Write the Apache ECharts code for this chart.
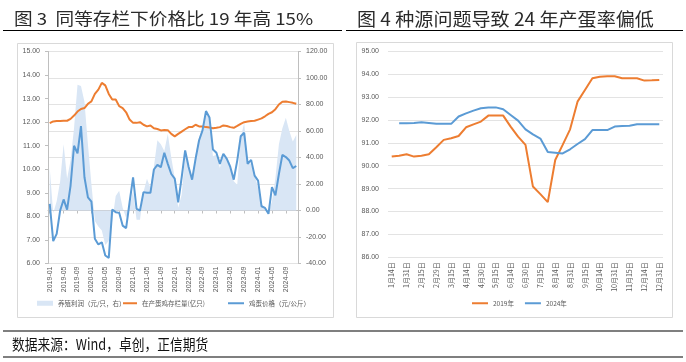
<!DOCTYPE html>
<html><head><meta charset="utf-8">
<script src="https://cdn.jsdelivr.net/npm/echarts@6/dist/echarts.min.js"></script>
<style>html,body{margin:0;padding:0;background:#fff}#c{width:686px;height:362px}</style>
</head><body><div id="c"></div>
<script>
// ---------- Left chart (图3) ----------
const months = [
 '2019-01','2019-02','2019-03','2019-04','2019-05','2019-06','2019-07','2019-08','2019-09','2019-10','2019-11','2019-12',
 '2020-01','2020-02','2020-03','2020-04','2020-05','2020-06','2020-07','2020-08','2020-09','2020-10','2020-11','2020-12',
 '2021-01','2021-02','2021-03','2021-04','2021-05','2021-06','2021-07','2021-08','2021-09','2021-10','2021-11','2021-12',
 '2022-01','2022-02','2022-03','2022-04','2022-05','2022-06','2022-07','2022-08','2022-09','2022-10','2022-11','2022-12',
 '2023-01','2023-02','2023-03','2023-04','2023-05','2023-06','2023-07','2023-08','2023-09','2023-10','2023-11','2023-12',
 '2024-01','2024-02','2024-03','2024-04','2024-05','2024-06','2024-07','2024-08','2024-09','2024-10','2024-11','2024-12'
];
// 养殖利润（元/只，右）
const profit = [
 32, -2, 7, 22, 50, 24, 38, 62, 95, 94,
 82, 50, 20, -8, -12, -15, -26, -23, -8, 11,
 15, 2, -5.6, 3, 15, -7, -7, 14, 24, 17,
 33, 53, 50, 45, 58, 40, 24.5, 2, 12, 42,
 35, 24.5, 42, 55, 62, 74, 70, 41, 42, 32,
 42, 40, 35, 22, 19.5, 55, 66, 37, 35, 27,
 17, 4.5, 2, -2, 7, 24.5, 50, 62, 70, 60,
 52, 57
];
// 在产蛋鸡存栏量(亿只)
const stock = [
 11.96, 12.03, 12.05, 12.05, 12.06, 12.06, 12.14, 12.28, 12.45, 12.56,
 12.6, 12.78, 12.88, 13.2, 13.38, 13.67, 13.56, 13.2, 12.96, 12.96,
 12.68, 12.6, 12.42, 12.11, 11.97, 11.97, 12.0, 11.89, 11.82, 11.86,
 11.74, 11.71, 11.65, 11.67, 11.66, 11.5, 11.4, 11.5, 11.6, 11.7,
 11.79, 11.79, 11.89, 11.82, 11.82, 11.79, 11.77, 11.74, 11.76, 11.79,
 11.86, 11.84, 11.79, 11.76, 11.84, 11.93, 12.0, 12.03, 12.05, 12.06,
 12.11, 12.16, 12.25, 12.35, 12.42, 12.55, 12.75, 12.87, 12.88, 12.85,
 12.82, 12.78
];
// 鸡蛋价格（元/公斤）
const eggPrice = [
 8.53, 6.95, 7.26, 8.25, 8.72, 8.29, 9.31, 11.0, 10.68, 11.83,
 9.66, 8.81, 8.63, 7.05, 6.81, 6.90, 6.34, 6.24, 8.29, 8.18,
 8.15, 7.61, 7.50, 8.6, 9.66, 8.32, 8.25, 9.03, 9.0, 9.0,
 9.99, 10.19, 10.09, 10.7, 10.23, 9.8, 9.6, 8.6, 9.66, 10.8,
 10.1, 9.56, 10.44, 11.22, 11.65, 12.47, 12.2, 10.84, 10.7, 10.23,
 10.66, 10.44, 10.1, 9.56, 10.37, 11.4, 11.55, 10.23, 10.4, 9.73,
 9.52, 8.43, 8.36, 8.11, 9.24, 8.89, 9.8, 10.61, 10.52, 10.37,
 10.05, 10.14
];

// ---------- Right chart (图4) ----------
const dates = [
 '1月14日','1月22日','1月31日','2月7日','2月15日','2月22日','2月29日','3月7日','3月15日','3月31日',
 '4月14日','4月22日','4月30日','5月7日','5月15日','5月31日','6月14日','6月22日','6月30日','7月7日',
 '7月15日','7月31日','8月14日','8月22日','8月31日','9月7日','9月15日','9月30日','10月14日','10月22日',
 '10月31日','11月7日','11月15日','11月30日','12月14日','12月22日','12月31日'
];
const rate2019 = [
 90.40, 90.44, 90.50, 90.40, 90.44, 90.50, 90.81, 91.13, 91.20, 91.30,
 91.68, 91.81, 91.93, 92.19, 92.19, 92.19, 91.71, 91.27, 90.91, 89.09,
 88.76, 88.41, 90.25, 90.91, 91.59, 92.80, 93.31, 93.82, 93.89, 93.91,
 93.91, 93.82, 93.82, 93.82, 93.72, 93.73, 93.75
];
const rate2024 = [
 null, 91.86, 91.86, 91.87, 91.90, 91.87, 91.83, 91.83, 91.83, 92.15,
 92.29, 92.41, 92.51, 92.54, 92.55, 92.47, 92.22, 91.97, 91.59, 91.37,
 91.19, 90.60, 90.57, 90.54, 90.72, 90.95, 91.16, 91.56, 91.56, 91.56,
 91.71, 91.74, 91.75, 91.81, 91.81, 91.81, 91.81
];

const titleLeft = '图 3  同等存栏下价格比 19 年高 15%';
const titleRight = '图 4 种源问题导致 24 年产蛋率偏低';
const footer = '数据来源：Wind，卓创，正信期货';

const FN = '"Liberation Sans", Arial, sans-serif';
const FC = '"Noto Sans CJK SC", sans-serif';
const LBL = '#595959';
const AX = '#bfbfbf';
const GRID = '#e3e3e3';
const ORANGE = '#ED7D31', BLUE = '#5B9BD5', AREA = '#d9e6f5';

const chart = echarts.init(document.getElementById('c'), null, {renderer:'canvas'});
const fmt2 = v => v.toFixed(2);
const legendText = {fontSize:6.5, color:LBL, fontFamily:FC};

chart.setOption({
  animation:false,
  backgroundColor:'#fff',
  grid:[
    {left:48, right:388, top:51.5, bottom:98.5},
    {left:388, right:23, top:51.3, bottom:104.7}
  ],
  xAxis:[
    {gridIndex:0, type:'category', data:months, boundaryGap:true,
     axisLine:{show:false, onZero:false}, axisTick:{show:false},
     axisLabel:{interval:3, rotate:90, fontSize:7, color:LBL, margin:3, fontFamily:FN}},
    {gridIndex:0, type:'category', data:months, boundaryGap:true, position:'bottom',
     axisLine:{show:true, onZero:true, onZeroAxisIndex:1, lineStyle:{color:AX}},
     axisTick:{show:true, interval:3, alignWithLabel:true, length:3, lineStyle:{color:AX}},
     axisLabel:{show:false}, splitLine:{show:false}},
    {gridIndex:1, type:'category', data:dates, boundaryGap:true,
     axisLine:{show:false}, axisTick:{show:false},
     axisLabel:{interval:1, rotate:90, fontSize:7, color:LBL, margin:5, fontFamily:FC}}
  ],
  yAxis:[
    {gridIndex:0, type:'value', min:6, max:15, interval:1, position:'left',
     axisLine:{show:true, lineStyle:{color:AX}}, axisTick:{show:true, length:3, lineStyle:{color:AX}},
     splitLine:{show:false},
     axisLabel:{formatter:fmt2, fontSize:7, color:LBL, margin:8, fontFamily:FN}},
    {gridIndex:0, type:'value', min:-40, max:120, interval:20, position:'right',
     axisLine:{show:true, lineStyle:{color:AX}}, axisTick:{show:true, length:3, lineStyle:{color:AX}},
     splitLine:{show:true, lineStyle:{color:GRID, width:1}},
     axisLabel:{formatter:fmt2, fontSize:7, color:LBL, margin:8, fontFamily:FN}},
    {gridIndex:1, type:'value', min:86, max:95, interval:1,
     axisLine:{show:false}, axisTick:{show:false},
     splitLine:{show:true, lineStyle:{color:GRID, width:1}},
     axisLabel:{formatter:fmt2, fontSize:7, color:LBL, margin:9, fontFamily:FN}}
  ],
  legend:[
    {data:[{name:'养殖利润（元/只，右）', icon:'rect'}], left:37, top:300, padding:0,
     itemWidth:16, itemHeight:5, textStyle:legendText},
    {data:[{name:'在产蛋鸡存栏量(亿只)', icon:'rect'}], left:123, top:300, padding:0,
     itemWidth:14, itemHeight:2, textStyle:legendText},
    {data:[{name:'鸡蛋价格（元/公斤）', icon:'rect'}], left:228, top:300, padding:0,
     itemWidth:16, itemHeight:2, textStyle:legendText},
    {data:[{name:'2019年', icon:'rect'}, {name:'2024年', icon:'rect'}], left:472, top:300, padding:0, itemGap:11,
     itemWidth:16, itemHeight:2, textStyle:legendText}
  ],
  series:[
    {type:'line', name:'养殖利润（元/只，右）', xAxisIndex:0, yAxisIndex:1, data:profit,
     symbol:'none', lineStyle:{width:0}, itemStyle:{color:AREA},
     areaStyle:{color:AREA, opacity:1}, z:1},
    {type:'line', name:'在产蛋鸡存栏量(亿只)', xAxisIndex:0, yAxisIndex:0, data:stock,
     symbol:'none', lineStyle:{width:2, color:ORANGE}, itemStyle:{color:ORANGE}, z:3},
    {type:'line', name:'鸡蛋价格（元/公斤）', xAxisIndex:0, yAxisIndex:0, data:eggPrice,
     symbol:'none', lineStyle:{width:2, color:BLUE}, itemStyle:{color:BLUE}, z:4},
    {type:'line', name:'2019年', xAxisIndex:2, yAxisIndex:2, data:rate2019,
     symbol:'none', lineStyle:{width:2, color:ORANGE}, itemStyle:{color:ORANGE}},
    {type:'line', name:'2024年', xAxisIndex:2, yAxisIndex:2, data:rate2024,
     symbol:'none', lineStyle:{width:2, color:BLUE}, itemStyle:{color:BLUE}}
  ],
  graphic:[
    {type:'text', x:14, y:19, scaleX:1.13, style:{text:titleLeft, fontSize:16.5, fontFamily:FC, fill:'#2a2a2a', verticalAlign:'middle'}},
    {type:'text', x:357, y:19, scaleX:1.06, style:{text:titleRight, fontSize:18, fontFamily:FC, fill:'#2a2a2a', verticalAlign:'middle'}},
    {type:'line', shape:{x1:3, y1:30.5, x2:342, y2:30.5}, style:{stroke:'#000', lineWidth:1.2}},
    {type:'line', shape:{x1:346, y1:30.5, x2:683, y2:30.5}, style:{stroke:'#000', lineWidth:1.2}},
    {type:'rect', shape:{x:17.5, y:43.5, width:316, height:274}, style:{fill:'none', stroke:'#d9d9d9', lineWidth:1}},
    {type:'rect', shape:{x:356.5, y:42.5, width:316, height:275}, style:{fill:'none', stroke:'#d9d9d9', lineWidth:1}},
    {type:'line', shape:{x1:3, y1:331, x2:683, y2:331}, style:{stroke:'#000', lineWidth:1.2}},
    {type:'text', x:12, y:344, scaleX:0.85, style:{text:footer, fontSize:15, fontFamily:FC, fill:'#111', verticalAlign:'middle'}},
    {type:'line', shape:{x1:3, y1:357, x2:683, y2:357}, style:{stroke:'#000', lineWidth:1.2}}
  ]
});
</script>
</body></html>
